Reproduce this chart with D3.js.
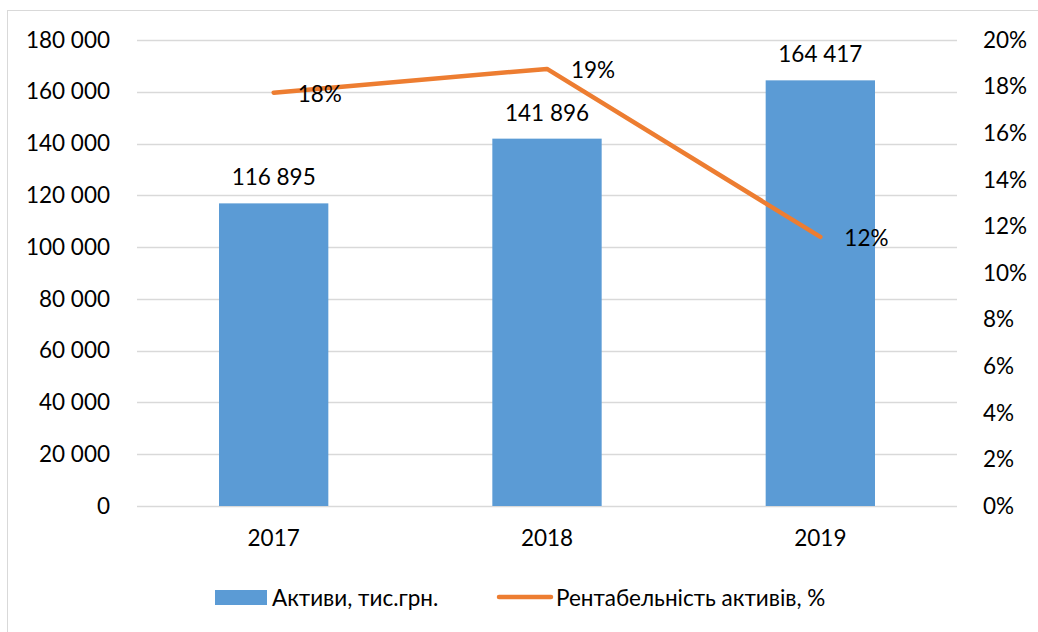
<!DOCTYPE html>
<html>
<head>
<meta charset="utf-8">
<script src="https://cdn.jsdelivr.net/npm/d3@7"></script>
<style>
  body { margin: 0; background: #fff; }
  svg text { font-family: Lato, "Open Sans", sans-serif; }
</style>
</head>
<body>
<div id="chart"></div>
<script>
// Chart data
var years = ["2017", "2018", "2019"];
var assets = [116895, 141896, 164417];
var roa = [0.1774, 0.1876, 0.1155];
var leftTicks = [0, 20000, 40000, 60000, 80000, 100000, 120000, 140000, 160000, 180000];
var rightTicks = [0, 0.02, 0.04, 0.06, 0.08, 0.10, 0.12, 0.14, 0.16, 0.18, 0.20];
var legendLabels = ["Активи, тис.грн.", "Рентабельність активів, %"];

var width = 1038, height = 632;
var margin = {top: 40, right: 81, bottom: 126, left: 137};
var fontSize = "22.5px";

var svg = d3.select("#chart")
  .append("svg")
    .attr("width", width)
    .attr("height", height);

// chart border
svg.append("rect")
  .attr("x", 7.5).attr("y", 10.5)
  .attr("width", 1040).attr("height", 640)
  .attr("fill", "none")
  .attr("stroke", "#d9d9d9");

var fmt = function(v) { return d3.format(",")(v).replace(/,/g, " "); };

// Scales
var x = d3.scaleBand()
  .domain(years)
  .range([margin.left, width - margin.right])
  .paddingInner(0.6)
  .paddingOuter(0.3);

var y = d3.scaleLinear()
  .domain([0, 180000])
  .range([height - margin.bottom, margin.top]);

var y2 = d3.scaleLinear()
  .domain([0, 0.2])
  .range([height - margin.bottom, margin.top]);

// Grid lines
svg.append("g")
  .attr("class", "grid")
  .selectAll("line")
  .data(leftTicks)
  .join("line")
    .attr("x1", margin.left)
    .attr("x2", width - margin.right)
    .attr("y1", d => Math.round(y(d)) + 0.5)
    .attr("y2", d => Math.round(y(d)) + 0.5)
    .attr("stroke", "#d9d9d9")
    .attr("stroke-width", 1.3);

// Left axis
var leftAxis = svg.append("g")
  .attr("transform", `translate(${margin.left},0)`)
  .call(d3.axisLeft(y).tickValues(leftTicks).tickFormat(fmt).tickSize(0).tickPadding(27));
leftAxis.select(".domain").remove();
leftAxis.selectAll("text")
  .style("font-size", fontSize)
  .attr("fill", "#000");

// Right axis
var rightAxis = svg.append("g")
  .attr("transform", `translate(${width - margin.right},0)`)
  .call(d3.axisRight(y2).tickValues(rightTicks).tickFormat(d3.format(".0%")).tickSize(0).tickPadding(26));
rightAxis.select(".domain").remove();
rightAxis.selectAll("text")
  .style("font-size", fontSize)
  .attr("fill", "#000");

// Bottom axis
var bottomAxis = svg.append("g")
  .attr("transform", `translate(0,${height - margin.bottom})`)
  .call(d3.axisBottom(x).tickSize(0).tickPadding(24));
bottomAxis.select(".domain").remove();
bottomAxis.selectAll("text")
  .style("font-size", fontSize)
  .attr("fill", "#000");

// Bars
svg.append("g")
  .selectAll("rect")
  .data(assets)
  .join("rect")
    .attr("x", (d, i) => x(years[i]))
    .attr("y", d => y(d))
    .attr("width", x.bandwidth())
    .attr("height", d => y(0) - y(d))
    .attr("fill", "#5b9bd5");

// Bar labels
svg.append("g")
  .selectAll("text")
  .data(assets)
  .join("text")
    .attr("x", (d, i) => x(years[i]) + x.bandwidth() / 2)
    .attr("y", d => y(d) - 18)
    .attr("text-anchor", "middle")
    .style("font-size", fontSize)
    .text(fmt);

// Line
var line = d3.line()
  .x((d, i) => x(years[i]) + x.bandwidth() / 2)
  .y(d => y2(d));

svg.append("path")
  .datum(roa)
  .attr("d", line)
  .attr("fill", "none")
  .attr("stroke", "#ed7d31")
  .attr("stroke-width", 4.5)
  .attr("stroke-linecap", "round")
  .attr("stroke-linejoin", "round");

// Line labels
svg.append("g")
  .selectAll("text")
  .data(roa)
  .join("text")
    .attr("x", (d, i) => x(years[i]) + x.bandwidth() / 2 + 24)
    .attr("y", d => y2(d) + 9)
    .style("font-size", fontSize)
    .text(d3.format(".0%"));

// Legend
var legend = svg.append("g");
legend.append("rect")
  .attr("x", 215).attr("y", 590)
  .attr("width", 52).attr("height", 15)
  .attr("fill", "#5b9bd5");
legend.append("text")
  .attr("x", 272).attr("y", 606)
  .style("font-size", fontSize)
  .text(legendLabels[0]);
legend.append("line")
  .attr("x1", 499).attr("x2", 551)
  .attr("y1", 597).attr("y2", 597)
  .attr("stroke", "#ed7d31")
  .attr("stroke-width", 4.5)
  .attr("stroke-linecap", "round");
legend.append("text")
  .attr("x", 556).attr("y", 606)
  .style("font-size", fontSize)
  .text(legendLabels[1]);
</script>
</body>
</html>
